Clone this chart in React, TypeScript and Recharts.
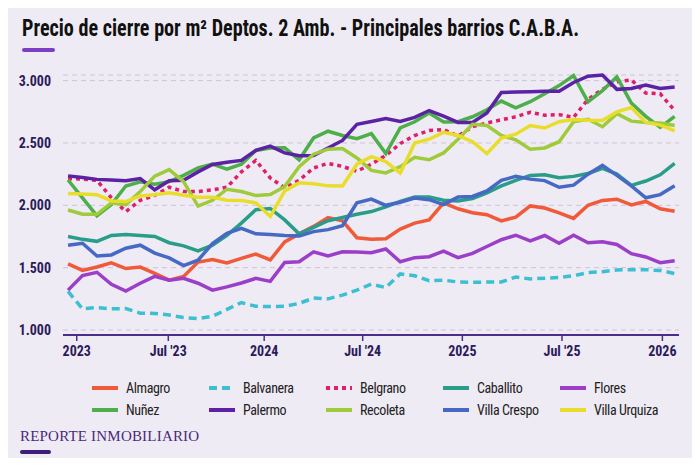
import { LineChart, Line, XAxis, YAxis, CartesianGrid, Legend } from 'recharts'

// one value per period (43 periods, Dec 2022 -> Feb 2026)
const almagro = [1530, 1478, 1505, 1538, 1493, 1505, 1455, 1400, 1430, 1545, 1565, 1538, 1575, 1609, 1562, 1706, 1771, 1831, 1902, 1876, 1740, 1727, 1732, 1810, 1857, 1883, 2019, 1972, 1941, 1925, 1875, 1905, 1995, 1978, 1940, 1895, 2000, 2039, 2049, 2003, 2031, 1972, 1953]
const balvanera = [1310, 1170, 1180, 1170, 1172, 1135, 1133, 1120, 1100, 1092, 1110, 1165, 1220, 1190, 1188, 1190, 1214, 1256, 1250, 1280, 1320, 1368, 1340, 1450, 1435, 1395, 1400, 1385, 1382, 1385, 1385, 1425, 1410, 1415, 1422, 1435, 1460, 1468, 1482, 1484, 1484, 1477, 1453]
const belgrano = [2215, 2210, 2200, 2060, 1950, 2040, 2080, 2145, 2111, 2110, 2124, 2145, 2268, 2360, 2220, 2140, 2200, 2300, 2336, 2312, 2273, 2330, 2400, 2495, 2560, 2600, 2608, 2555, 2630, 2660, 2686, 2710, 2746, 2722, 2727, 2705, 2850, 2930, 2990, 3005, 2900, 2895, 2760]
const caballito = [1750, 1727, 1711, 1758, 1766, 1758, 1750, 1700, 1675, 1635, 1680, 1760, 1857, 1965, 1975, 1883, 1771, 1823, 1876, 1902, 1928, 1950, 1988, 2032, 2066, 2066, 2040, 2035, 2055, 2100, 2155, 2200, 2240, 2245, 2222, 2232, 2255, 2297, 2250, 2160, 2195, 2245, 2336]
const flores = [1320, 1437, 1463, 1367, 1312, 1375, 1430, 1400, 1414, 1375, 1320, 1346, 1377, 1414, 1390, 1541, 1547, 1627, 1594, 1627, 1625, 1620, 1650, 1547, 1580, 1588, 1633, 1580, 1615, 1670, 1724, 1760, 1715, 1758, 1695, 1760, 1700, 1708, 1686, 1612, 1586, 1540, 1555]
const nunez = [2203, 2059, 1915, 2006, 2155, 2189, 2170, 2190, 2240, 2300, 2330, 2290, 2330, 2440, 2460, 2461, 2365, 2540, 2594, 2560, 2535, 2575, 2415, 2620, 2670, 2740, 2668, 2670, 2710, 2766, 2836, 2781, 2831, 2895, 2960, 3040, 2830, 2920, 3030, 2820, 2713, 2625, 2713]
const palermo = [2236, 2223, 2208, 2202, 2197, 2215, 2124, 2197, 2200, 2268, 2328, 2346, 2360, 2440, 2475, 2420, 2398, 2400, 2460, 2520, 2650, 2672, 2695, 2672, 2705, 2760, 2715, 2665, 2665, 2740, 2905, 2908, 2911, 2914, 2914, 2985, 3035, 3045, 2930, 2937, 2965, 2937, 2948]
const recoleta = [1962, 1928, 1928, 2019, 2006, 2111, 2234, 2286, 2190, 1993, 2040, 2129, 2111, 2078, 2086, 2150, 2310, 2410, 2450, 2455, 2380, 2280, 2260, 2310, 2385, 2365, 2420, 2530, 2650, 2640, 2560, 2525, 2450, 2460, 2510, 2670, 2690, 2630, 2735, 2675, 2665, 2660, 2640]
const villaCrespo = [1680, 1696, 1594, 1602, 1656, 1680, 1617, 1578, 1516, 1560, 1693, 1775, 1815, 1771, 1766, 1758, 1753, 1789, 1805, 1836, 2020, 2050, 2000, 2025, 2059, 2045, 2006, 2066, 2071, 2115, 2200, 2232, 2210, 2198, 2145, 2162, 2250, 2320, 2240, 2156, 2060, 2086, 2156]
const villaUrquiza = [2095, 2090, 2085, 2035, 2030, 2075, 2085, 2100, 2080, 2065, 2065, 2040, 2039, 2020, 1910, 2115, 2180, 2172, 2156, 2155, 2330, 2390, 2350, 2258, 2500, 2530, 2585, 2560, 2510, 2414, 2540, 2570, 2640, 2620, 2670, 2688, 2682, 2680, 2750, 2784, 2665, 2643, 2596]

const tickLabels = ['2023', "Jul '23", '2024', "Jul '24", '2025', "Jul '25", '2026']
const tickAt = [0.6, 6.94, 13.58, 20.4, 27.3, 34.2, 41.15]
const yTicks = [1000, 1500, 2000, 2500, 3000]

const series = [
  { key: 'almagro', name: 'Almagro', values: almagro, color: '#f05a38', dash: undefined },
  { key: 'balvanera', name: 'Balvanera', values: balvanera, color: '#3cbfd0', dash: '8 5' },
  { key: 'belgrano', name: 'Belgrano', values: belgrano, color: '#e01f6a', dash: '4 4' },
  { key: 'caballito', name: 'Caballito', values: caballito, color: '#2a9d8a', dash: undefined },
  { key: 'flores', name: 'Flores', values: flores, color: '#9c3fc8', dash: undefined },
  { key: 'nunez', name: 'Nuñez', values: nunez, color: '#4dae4a', dash: undefined },
  { key: 'palermo', name: 'Palermo', values: palermo, color: '#5b22a5', dash: undefined },
  { key: 'recoleta', name: 'Recoleta', values: recoleta, color: '#9fcb3a', dash: undefined },
  { key: 'villaCrespo', name: 'Villa Crespo', values: villaCrespo, color: '#4569c5', dash: undefined },
  { key: 'villaUrquiza', name: 'Villa Urquiza', values: villaUrquiza, color: '#e9dd2c', dash: undefined },
]

const data = almagro.map((_, i) => {
  const row: Record<string, number> = { i }
  series.forEach((s) => { row[s.key] = s.values[i] })
  return row
})

const FONT = "'Roboto Condensed', 'Arial Narrow', Roboto, sans-serif"
const INK = '#2b1b5a'

function formatThousands(v: number) {
  return v.toLocaleString('es-AR')
}

function LegendGrid() {
  return (
    <div style={{ display: 'grid', gridTemplateColumns: 'repeat(5, 117px)', rowGap: 6, paddingLeft: 92, fontFamily: FONT, fontSize: 14, letterSpacing: -0.4, color: '#222' }}>
      {series.map((s) => (
        <div key={s.key} style={{ display: 'flex', alignItems: 'center', height: 16 }}>
          <svg width={26} height={6} style={{ marginRight: 8 }}>
            <line x1={0} y1={3} x2={26} y2={3} stroke={s.color} strokeWidth={4} strokeDasharray={s.dash} />
          </svg>
          <span>{s.name}</span>
        </div>
      ))}
    </div>
  )
}

export default function App() {
  return (
    <div style={{ position: 'relative', width: 700, height: 466, margin: -8, background: '#f8f6fa', overflow: 'hidden' }}>
      <div style={{ position: 'absolute', left: 3, top: 3, right: 3, bottom: 3, background: '#efebf4', borderRadius: 12 }} />
      <div style={{ position: 'absolute', left: 22, top: 15, fontFamily: FONT, fontWeight: 700, fontSize: 23, color: '#111', whiteSpace: 'nowrap', transform: 'scaleX(0.875)', transformOrigin: 'left top' }}>
        Precio de cierre por m² Deptos. 2 Amb. - Principales barrios C.A.B.A.
      </div>
      <div style={{ position: 'absolute', left: 22, top: 48, width: 33, height: 3.5, borderRadius: 2, background: '#7c3fc4' }} />
      <div style={{ position: 'absolute', left: 20, top: 428, fontFamily: "'Liberation Serif', 'DejaVu Serif', serif", fontSize: 15, color: '#4a2a7a', letterSpacing: 0.2 }}>
        REPORTE INMOBILIARIO
      </div>
      <div style={{ position: 'absolute', left: 20, top: 450, width: 31, height: 4, borderRadius: 2, background: '#3d1f7a' }} />
      <div style={{ position: 'absolute', left: 0, top: 0 }}>
        <LineChart width={700} height={466} data={data} margin={{ top: 75, right: 21, left: 0, bottom: 101 }}>
          <CartesianGrid vertical={false} stroke="#cdc3da" strokeDasharray="5 4" />
          <XAxis
            dataKey="i"
            type="number"
            domain={[-0.35, 42.3]}
            ticks={tickAt}
            tickFormatter={(v) => tickLabels[tickAt.indexOf(v)] ?? ''}
            tick={{ fontSize: 14, fontWeight: 700, fill: INK, fontFamily: FONT }}
            axisLine={{ stroke: '#4b2c8c', strokeWidth: 2 }}
            tickLine={{ stroke: '#4b2c8c', strokeWidth: 1.5 }}
            tickSize={6}
            tickMargin={5}
            height={30}
          />
          <YAxis
            domain={[960, 3000]}
            ticks={yTicks}
            tickFormatter={formatThousands}
            tick={{ fontSize: 14, fontWeight: 700, fill: INK, fontFamily: FONT }}
            axisLine={false}
            tickLine={false}
            tickMargin={6}
            width={63}
          />
          {series.map((s) => (
            <Line
              key={s.key}
              dataKey={s.key}
              name={s.name}
              stroke={s.color}
              strokeWidth={3.5}
              strokeDasharray={s.dash}
              dot={false}
              isAnimationActive={false}
            />
          ))}
          <Legend layout="horizontal" verticalAlign="middle" content={<LegendGrid />} wrapperStyle={{ top: 380, left: 0, width: 700 }} />
        </LineChart>
      </div>
    </div>
  )
}
